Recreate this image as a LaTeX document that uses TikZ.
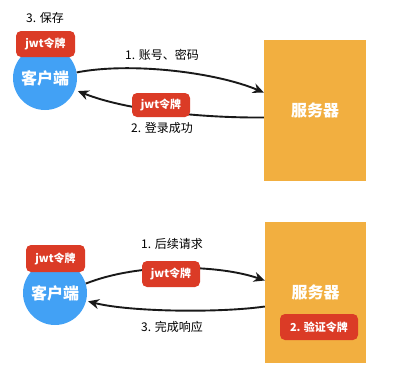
\documentclass[tikz,border=0pt]{standalone}
\usepackage{fontspec}
\setmainfont{Noto Sans CJK SC}
\usetikzlibrary{arrows.meta}
\definecolor{cblue}{RGB}{66,161,245}
\definecolor{corange}{RGB}{242,175,64}
\definecolor{cred}{RGB}{219,59,38}
\tikzset{
  client/.style={circle,fill=cblue,minimum size=64pt,inner sep=0pt,text=white,font=\fontsize{16}{18}\selectfont\bfseries},
  server/.style={rectangle,fill=corange,minimum width=102pt,minimum height=141pt,inner sep=0pt,text=white,font=\fontsize{16}{18}\selectfont\bfseries},
  badge/.style={rectangle,rounded corners=5pt,fill=cred,minimum width=59pt,minimum height=26pt,inner sep=0pt,text=white,font=\fontsize{11}{13}\selectfont\bfseries},
  lbl/.style={inner sep=0pt,text=black,font=\fontsize{12}{14}\selectfont},
  conn/.style={line width=1.9pt,draw=black!90,-{Stealth[length=11pt,width=10pt]}}
}
\begin{document}
\begin{tikzpicture}[x=1pt,y=-1pt]
\useasboundingbox (0,0) rectangle (394,386);
% top
\node[server] (s1) at (315,110.5) {服务器};
\node[client] (c1) at (45,78) {客户端};
\node[badge] (b1) at (45.5,44) {jwt令牌};
\node[lbl] (t1) at (45,18) {3. 保存};
\node[lbl] (t2) at (162,55) {1. 账号、密码};
\node[lbl] (t3) at (162,128) {2. 登录成功};
\draw[conn] (c1.10) .. controls (130,62) and (215,72) .. ([yshift=18pt]s1.west);
\draw[conn] ([yshift=-7pt]s1.west) .. controls (200,118) and (125,110) .. ([shift={(3pt,-1pt)}]c1.-22);
\node[badge,minimum width=58pt,minimum height=24pt] (b3) at (161,105) {jwt令牌};
% bottom
\node[server,minimum width=101pt] (s2) at (315.5,292.5) {服务器};
\node[client] (c2) at (55,293) {客户端};
\node[badge,minimum height=27pt] (b2) at (55.5,258.5) {jwt令牌};
\node[badge,minimum width=78pt] (b5) at (319,327) {2. 验证令牌};
\node[lbl] (t4) at (172,244) {1. 后续请求};
\node[lbl] (t5) at (172,327) {3. 完成响应};
\draw[conn] (c2.17) .. controls (140,262) and (220,265) .. ([yshift=12pt]s2.west);
\draw[conn] ([yshift=-14pt]s2.west) .. controls (220,313) and (130,312) .. ([shift={(2pt,0pt)}]c2.-15);
\node[badge,minimum width=58pt] (b4) at (171,274) {jwt令牌};
\end{tikzpicture}
\end{document}
